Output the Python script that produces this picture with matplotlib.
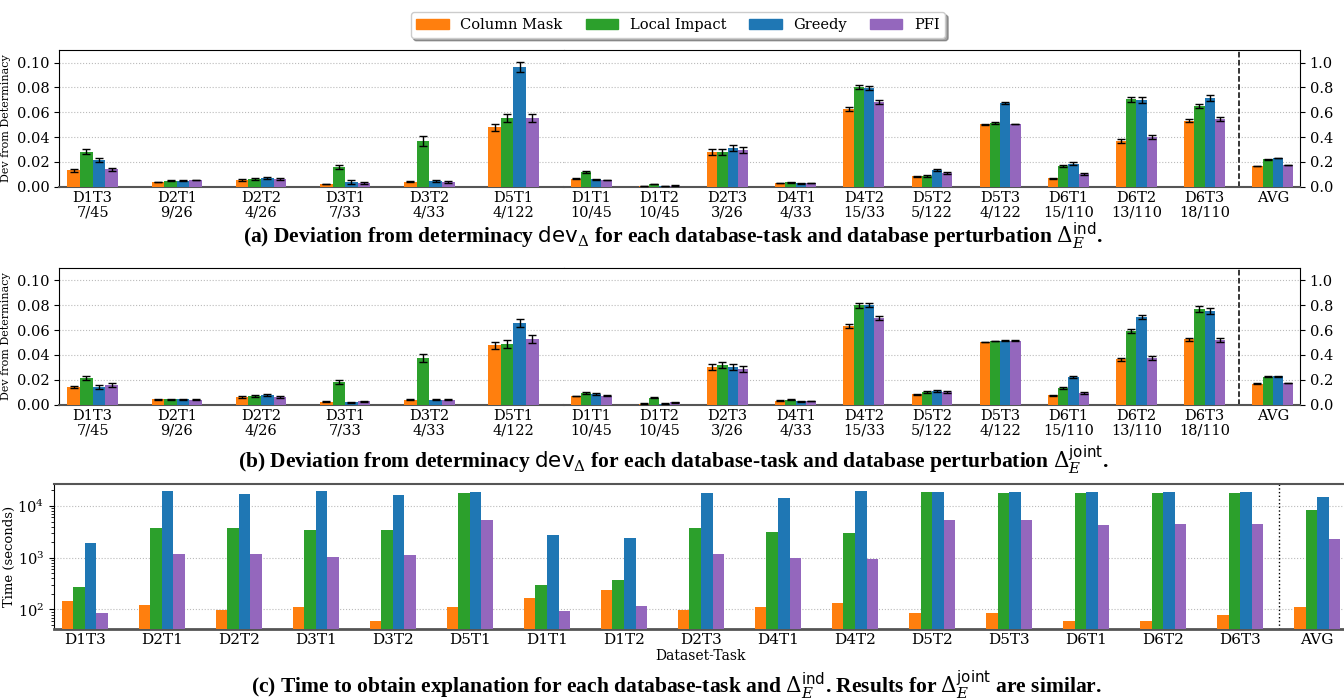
import numpy as np
import matplotlib.pyplot as plt
from matplotlib.patches import Patch

plt.rcParams['font.family'] = 'DejaVu Serif'
plt.rcParams['mathtext.fontset'] = 'dejavuserif'

methods = ['Column Mask', 'Local Impact', 'Greedy', 'PFI']
colors = ['#ff7f0e', '#2ca02c', '#1f77b4', '#9467bd']

tasks = ['D1T3', 'D2T1', 'D2T2', 'D3T1', 'D3T2', 'D5T1', 'D1T1', 'D1T2', 'D2T3',
         'D4T1', 'D4T2', 'D5T2', 'D5T3', 'D6T1', 'D6T2', 'D6T3', 'AVG']
ratios = ['7/45', '9/26', '4/26', '7/33', '4/33', '4/122', '10/45', '10/45', '3/26',
          '4/33', '15/33', '5/122', '4/122', '15/110', '13/110', '18/110', '']
n_left = 6  # first groups use the left (0-0.1) scale, the rest the right (0-1) scale

# (a) dev from determinacy, ind perturbation
ind_colmask = [0.0134, 0.0038, 0.0054, 0.0022, 0.0038, 0.0481, 0.065, 0.005, 0.28, 0.03,
               0.626, 0.086, 0.503, 0.07, 0.366, 0.53, 0.165]
ind_colmask_err = [0.0012, 0.0003, 0.0007, 0.0003, 0.0004, 0.0028, 0.003, 0.002, 0.025, 0.003,
                   0.015, 0.004, 0.003, 0.004, 0.017, 0.012, 0.002]
ind_local = [0.028, 0.0046, 0.0062, 0.0159, 0.0368, 0.0554, 0.118, 0.021, 0.28, 0.036,
             0.804, 0.086, 0.513, 0.168, 0.707, 0.65, 0.22]
ind_local_err = [0.002, 0.0004, 0.0007, 0.0015, 0.0038, 0.0032, 0.005, 0.003, 0.025, 0.003,
                 0.02, 0.005, 0.005, 0.01, 0.02, 0.015, 0.002]
ind_greedy = [0.0215, 0.0046, 0.0073, 0.0038, 0.0046, 0.0965, 0.062, 0.006, 0.312, 0.027,
              0.796, 0.134, 0.675, 0.185, 0.699, 0.715, 0.231]
ind_greedy_err = [0.0019, 0.0004, 0.0008, 0.0019, 0.001, 0.0039, 0.004, 0.002, 0.028, 0.002,
                  0.016, 0.01, 0.008, 0.014, 0.022, 0.022, 0.003]
ind_pfi = [0.0142, 0.0054, 0.0065, 0.003, 0.0038, 0.0554, 0.054, 0.008, 0.296, 0.03,
           0.683, 0.11, 0.505, 0.102, 0.398, 0.546, 0.175]
ind_pfi_err = [0.0012, 0.0004, 0.0007, 0.0005, 0.0005, 0.0032, 0.003, 0.002, 0.024, 0.003,
               0.015, 0.008, 0.003, 0.008, 0.016, 0.013, 0.002]

# (b) dev from determinacy, joint perturbation
joint_colmask = [0.0142, 0.0043, 0.0062, 0.0024, 0.0038, 0.048, 0.07, 0.008, 0.303, 0.032,
                 0.633, 0.086, 0.504, 0.078, 0.367, 0.525, 0.169]
joint_colmask_err = [0.001, 0.0004, 0.0008, 0.0006, 0.0004, 0.0028, 0.004, 0.002, 0.025, 0.003,
                     0.014, 0.004, 0.003, 0.004, 0.012, 0.01, 0.002]
joint_local = [0.0214, 0.0043, 0.007, 0.0182, 0.0375, 0.0488, 0.094, 0.054, 0.319, 0.04,
               0.802, 0.102, 0.512, 0.134, 0.593, 0.77, 0.225]
joint_local_err = [0.0015, 0.0004, 0.0008, 0.0018, 0.003, 0.003, 0.005, 0.004, 0.027, 0.003,
                   0.02, 0.008, 0.003, 0.008, 0.02, 0.025, 0.002]
joint_greedy = [0.0142, 0.0043, 0.0078, 0.0019, 0.0038, 0.0657, 0.086, 0.008, 0.303, 0.027,
                0.802, 0.11, 0.515, 0.223, 0.705, 0.753, 0.228]
joint_greedy_err = [0.0015, 0.0004, 0.0008, 0.0003, 0.0004, 0.003, 0.005, 0.002, 0.027, 0.003,
                    0.014, 0.007, 0.003, 0.01, 0.018, 0.022, 0.002]
joint_pfi = [0.0158, 0.0038, 0.0064, 0.0027, 0.0038, 0.0528, 0.072, 0.019, 0.287, 0.03,
             0.697, 0.102, 0.515, 0.094, 0.375, 0.52, 0.174]
joint_pfi_err = [0.0013, 0.0004, 0.0008, 0.0004, 0.0004, 0.003, 0.004, 0.002, 0.027, 0.003,
                 0.017, 0.007, 0.003, 0.006, 0.016, 0.013, 0.002]

# (c) time in seconds
time_colmask = [147, 123, 96, 113, 59, 113, 168, 240, 99, 113, 134, 86, 86, 60, 60, 79, 113]
time_local = [274, 3800, 3800, 3440, 3440, 17800, 299, 373, 3800, 3160, 3020, 18600, 17800,
              17800, 17800, 17800, 8360]
time_greedy = [1930, 19800, 17000, 19800, 16300, 18600, 2760, 2450, 17800, 14300, 19800, 18600,
               18600, 18600, 18600, 18600, 14900]
time_pfi = [86, 1186, 1186, 1038, 1136, 5380, 94, 118, 1186, 990, 950, 5380, 5380, 4300, 4480,
            4480, 2300]

W, H = 1344, 700
fig = plt.figure(figsize=(W / 100, H / 100), dpi=100)


def box(x0, y0, x1, y1):
    return [x0 / W, 1 - y1 / H, (x1 - x0) / W, (y1 - y0) / H]


bw = 0.15
offs = (np.arange(4) - 1.5) * bw
ekw = dict(elinewidth=1.0, capthick=1.0, ecolor='black')


def dev_panel(y0, y1, series, errs):
    axl = fig.add_axes(box(59, y0, 564, y1))
    axr = fig.add_axes(box(564, y0, 1300, y1))
    xl = np.arange(n_left)
    xr = np.arange(len(tasks) - n_left)
    for i in range(4):
        v = np.array(series[i])
        e = np.array(errs[i])
        axl.bar(xl + offs[i], v[:n_left], bw, yerr=e[:n_left], color=colors[i],
                capsize=3, error_kw=ekw, zorder=3)
        axr.bar(xr + offs[i], v[n_left:], bw, yerr=e[n_left:], color=colors[i],
                capsize=3, error_kw=ekw, zorder=3)
    labels = [t + '\n' + r if r else t for t, r in zip(tasks, ratios)]
    axl.set_xlim(-0.4, n_left - 0.4)
    axr.set_xlim(-0.4, len(xr) - 0.6)
    axl.set_ylim(0, 0.11)
    axr.set_ylim(0, 1.1)
    axl.set_xticks(xl)
    axl.set_xticklabels(labels[:n_left], fontsize=10.5, linespacing=1.05, va='top')
    axr.set_xticks(xr)
    axr.set_xticklabels(labels[n_left:], fontsize=10.5, linespacing=1.05, va='top')
    axl.set_yticks(np.arange(0, 0.101, 0.02))
    axl.set_yticklabels(['%.2f' % t for t in np.arange(0, 0.101, 0.02)], fontsize=10.5)
    axr.set_yticks(np.arange(0, 1.01, 0.2))
    axr.set_yticklabels(['%.1f' % t for t in np.arange(0, 1.01, 0.2)], fontsize=10.5)
    axr.yaxis.tick_right()
    axl.set_ylabel('Dev from Determinacy', fontsize=8, labelpad=4)
    for ax in (axl, axr):
        ax.tick_params(axis='x', length=0, pad=3)
        ax.grid(axis='y', linestyle=':', color='#bbbbbb', linewidth=0.8, zorder=0)
        ax.spines['bottom'].set_color('#555555')
        ax.spines['bottom'].set_linewidth(1.5)
    axl.spines['right'].set_visible(False)
    axr.spines['left'].set_visible(False)
    axr.axvline(len(xr) - 1.5, color='black', linestyle='--', linewidth=1.1)


dev_panel(50.3, 186.7,
          [ind_colmask, ind_local, ind_greedy, ind_pfi],
          [ind_colmask_err, ind_local_err, ind_greedy_err, ind_pfi_err])
dev_panel(268, 404.7,
          [joint_colmask, joint_local, joint_greedy, joint_pfi],
          [joint_colmask_err, joint_local_err, joint_greedy_err, joint_pfi_err])

# (c) time panel
axc = fig.add_axes(box(54, 484, 1348, 629))
xc = np.arange(len(tasks))
for i, vals in enumerate([time_colmask, time_local, time_greedy, time_pfi]):
    axc.bar(xc + offs[i], vals, bw, color=colors[i], zorder=3)
axc.set_yscale('log')
axc.set_ylim(42, 26500)
axc.set_xlim(-0.4, len(tasks) - 0.6)
axc.set_xticks(xc)
axc.set_xticklabels(tasks, fontsize=11)
axc.tick_params(axis='x', length=0, pad=3)
axc.tick_params(axis='y', labelsize=10.5)
axc.grid(axis='y', which='major', linestyle=':', color='#bbbbbb', linewidth=0.8, zorder=0)
axc.axvline(len(tasks) - 1.5, color='black', linestyle=':', linewidth=1.0)
axc.set_ylabel('Time (seconds)', fontsize=9.5, labelpad=1)
axc.set_xlabel('Dataset-Task', fontsize=10, labelpad=1)
axc.spines['bottom'].set_color('#555555')
axc.spines['bottom'].set_linewidth(2)
axc.spines['top'].set_color('#555555')
axc.spines['top'].set_linewidth(1.5)

handles = [Patch(color=c, label=m) for c, m in zip(colors, methods)]
fig.legend(handles=handles, loc='upper center', bbox_to_anchor=(678 / W, 1 - 5 / H),
           ncol=4, fontsize=10.5, frameon=True, shadow=True, fancybox=True,
           handlelength=2.2, columnspacing=1.6, borderpad=0.4)

cap_kw = dict(ha='center', va='center', fontsize=15.5, fontweight='bold',
              family='Liberation Serif')
fig.text(673 / W, 1 - 236 / H,
         r'(a) Deviation from determinacy $\mathsf{dev}_\Delta$ for each database-task and '
         r'database perturbation $\Delta_E^{\mathsf{ind}}$.', **cap_kw)
fig.text(673 / W, 1 - 460 / H,
         r'(b) Deviation from determinacy $\mathsf{dev}_\Delta$ for each database-task and '
         r'database perturbation $\Delta_E^{\mathsf{joint}}$.', **cap_kw)
fig.text(676 / W, 1 - 685 / H,
         r'(c) Time to obtain explanation for each database-task and $\Delta_E^{\mathsf{ind}}$. '
         r'Results for $\Delta_E^{\mathsf{joint}}$ are similar.', **cap_kw)

fig.savefig('out.png', dpi=100)
